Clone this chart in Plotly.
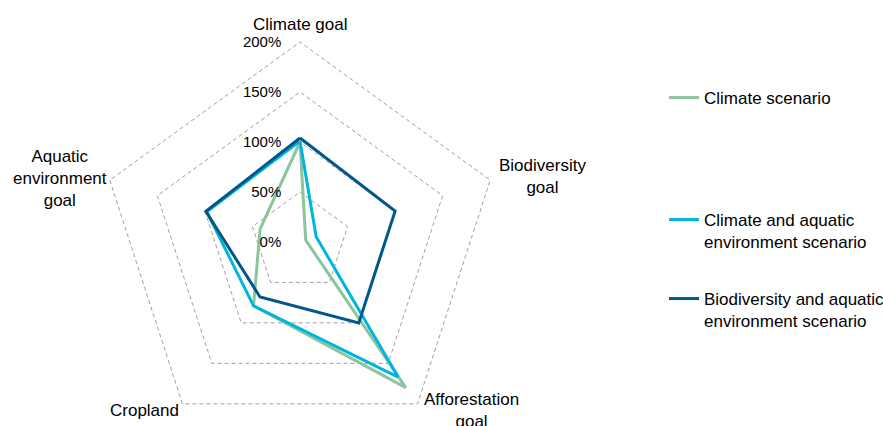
import plotly.graph_objects as go

categories = ["Climate goal", "Biodiversity goal", "Afforestation goal", "Cropland", "Aquatic environment goal"]
category_labels = ["Climate goal", "Biodiversity<br>goal", "Afforestation<br>goal", "Cropland", "Aquatic<br>environment<br>goal"]
series_names = ["Climate scenario", "Climate and aquatic<br>environment scenario", "Biodiversity and aquatic<br>environment scenario"]
climate_scenario = [100, 6, 180, 79, 42]
climate_aquatic = [101, 17, 167, 79, 98]
biodiv_aquatic = [104, 100, 100, 68, 99]
radial_ticks = [0, 50, 100, 150, 200]
radial_tick_labels = ["0%", "50%", "100%", "150%", "200%"]
colors = ["#8CC49E", "#00B4E0", "#00578A"]

FONT = "Liberation Sans, Arial, sans-serif"
W, H = 883, 460

fig = go.Figure()
legends = ["legend", "legend2", "legend3"]
for vals, name, col, lg in zip([climate_scenario, climate_aquatic, biodiv_aquatic], series_names, colors, legends):
    fig.add_trace(go.Scatterpolar(
        r=vals + [vals[0]], theta=categories + [categories[0]],
        mode="lines", name=name, line=dict(color=col, width=3),
        legend=lg, showlegend=True))

cx, cy = 300, 242
RMAX = 210
R = 200 * RMAX / 200
fig.update_layout(
    width=W, height=H,
    margin=dict(l=0, r=0, t=0, b=0, autoexpand=False),
    paper_bgcolor="white", plot_bgcolor="white",
    font=dict(family=FONT, size=17, color="#000000"),
    polar=dict(
        domain=dict(x=[(cx - R) / W, (cx + R) / W], y=[1 - (cy + R) / H, 1 - (cy - R) / H]),
        bgcolor="white",
        gridshape="linear",
        angularaxis=dict(rotation=90, direction="clockwise", showgrid=False, showline=False,
                         ticks="", showticklabels=False),
        radialaxis=dict(range=[0, RMAX], tickvals=radial_ticks, ticktext=radial_tick_labels, angle=90,
                        side="counterclockwise", tickangle=90, showline=False,
                        ticks="outside", ticklen=13, tickcolor="rgba(0,0,0,0)",
                        gridcolor="#A0A0A0", griddash="4px,3px", gridwidth=1,
                        tickfont=dict(size=15, family=FONT)),
    ),
)

# category labels placed around the chart
label_pos = [(300, 24), (542, 176), (471, 410), (144, 410), (60, 178)]
for txt, (px, py) in zip(category_labels, label_pos):
    fig.add_annotation(text=txt, x=px / W, y=1 - py / H, xref="paper", yref="paper",
                       xanchor="center", yanchor="middle", align="center", showarrow=False,
                       font=dict(size=17, family=FONT, color="#000000"))

leg_common = dict(xanchor="left", yanchor="middle", valign="top", bgcolor="rgba(0,0,0,0)",
                  font=dict(size=17, family=FONT))
fig.update_layout(
    legend=dict(x=664 / W, y=1 - 98 / H, **leg_common),
    legend2=dict(x=664 / W, y=1 - 231 / H, **leg_common),
    legend3=dict(x=664 / W, y=1 - 310 / H, **leg_common),
)

fig.write_html("out.html", post_script="document.documentElement.style.overflow='hidden';document.body.style.overflow='hidden';")
